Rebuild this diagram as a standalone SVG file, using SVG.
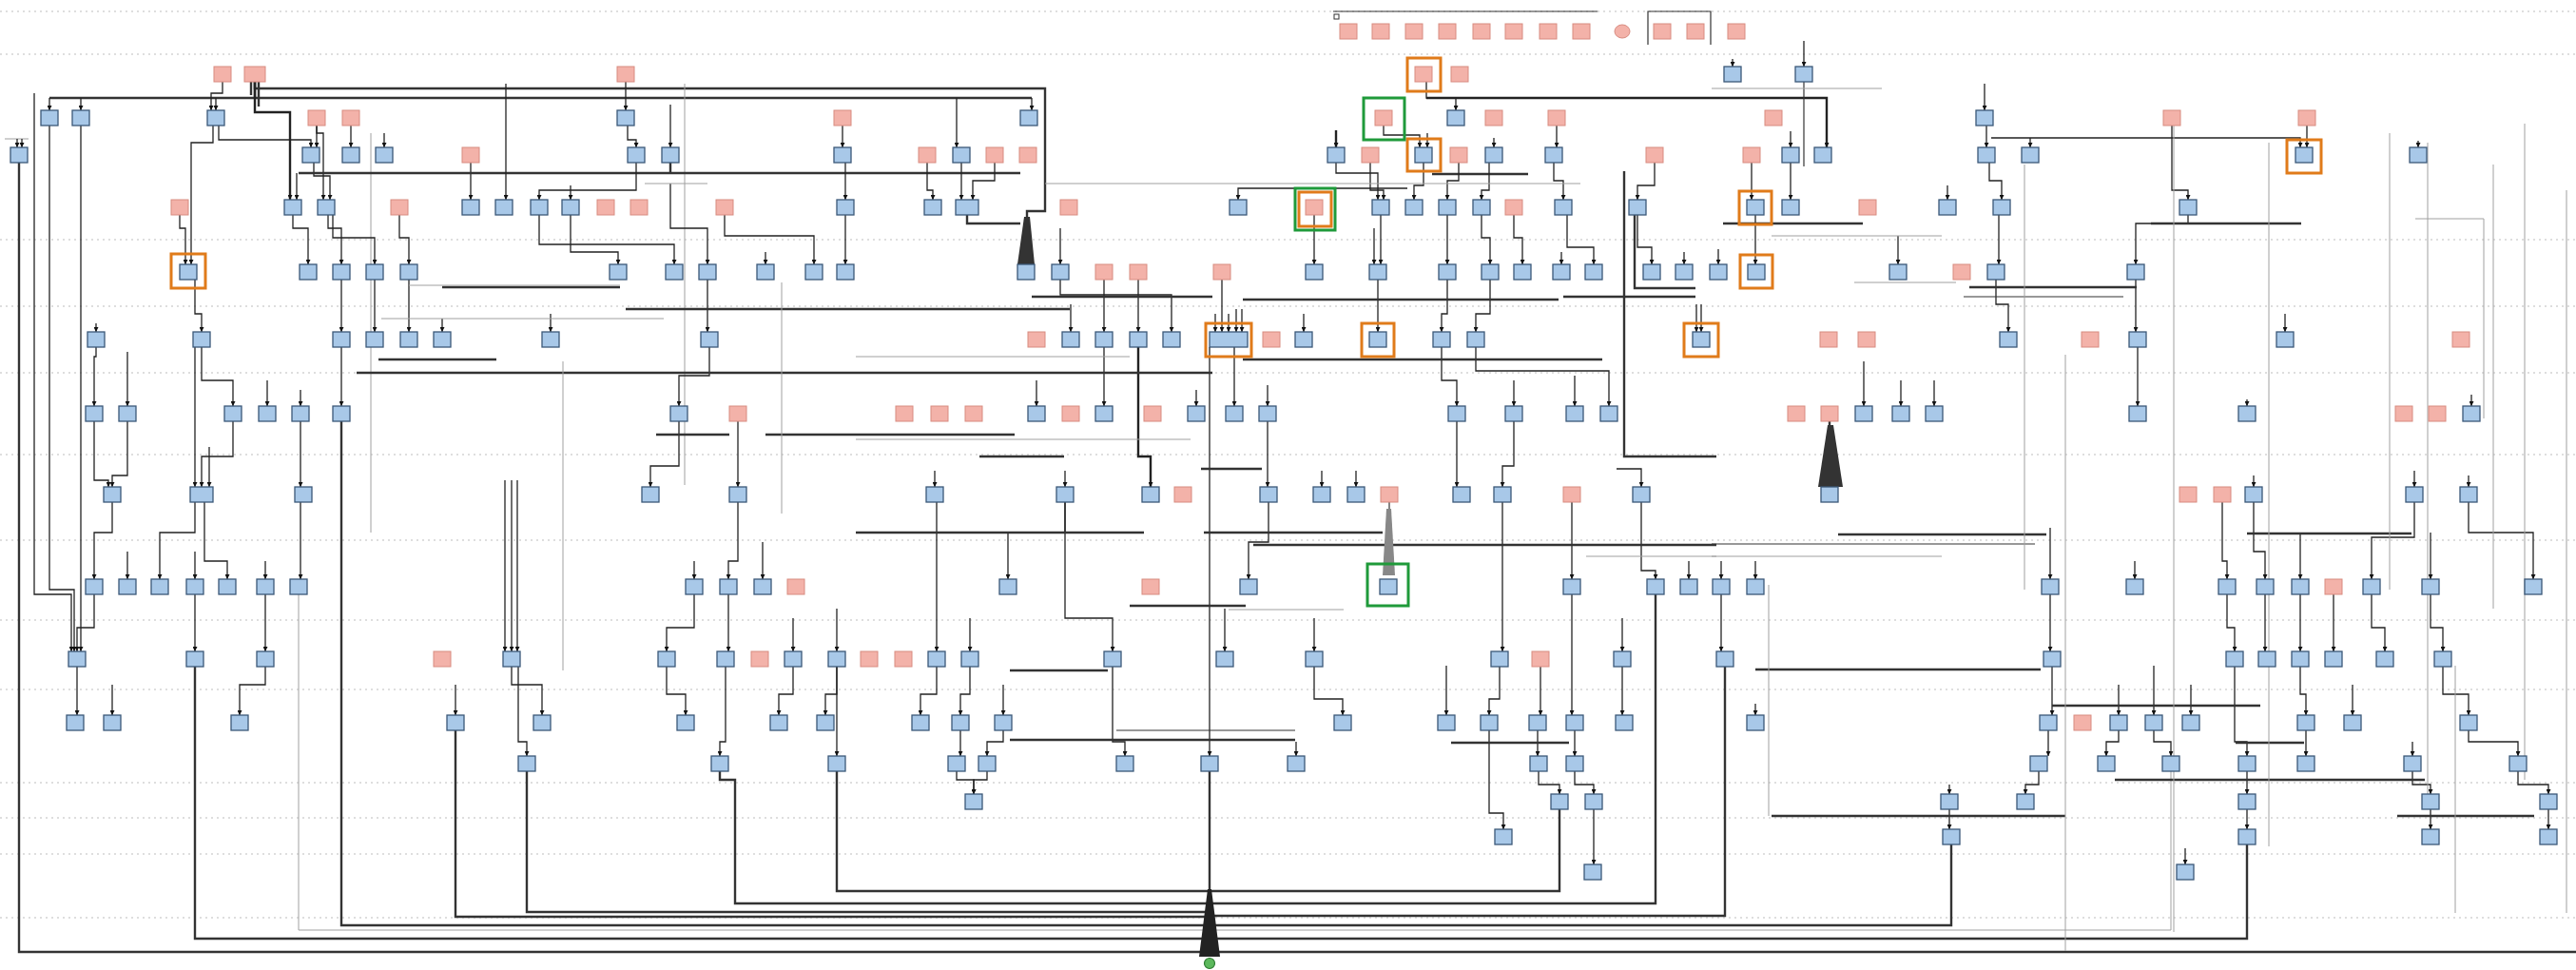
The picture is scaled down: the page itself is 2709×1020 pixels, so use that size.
<svg xmlns="http://www.w3.org/2000/svg" width="2709" height="1020" viewBox="0 0 2709 1020">
<style>
.b{fill:#a8c8e8;stroke:#3b5878;stroke-width:1.3}
.p{fill:#f3b2a9;stroke:#d88b80;stroke-width:1}
.e,.t,.g,.h,.k,.q{fill:none}
.e{stroke:#222;stroke-width:1.3;marker-end:url(#a)}
.t{stroke:#222;stroke-width:2.4;marker-end:url(#a)}
.h{stroke:#333;stroke-width:2.4}
.k{stroke:#333;stroke-width:1.2}
.q{stroke:#a0a0a0;stroke-width:1}
.d{stroke:#d4d4d4;stroke-width:1.5;stroke-dasharray:2 4;fill:none}
.of{fill:none;stroke:#e07b1a;stroke-width:3}
.gf{fill:none;stroke:#1f9a3a;stroke-width:3}
</style>
<defs>
<marker id="a" viewBox="0 0 6 6" refX="6" refY="3" markerWidth="5" markerHeight="5" markerUnits="userSpaceOnUse" orient="auto"><path d="M0,0L6,3L0,6z" fill="#111"/></marker>
</defs>
<rect width="2709" height="1020" fill="#fff"/>
<g id="lanes">
<path class="d" d="M0 12H2709M0 57H2709M0 252H2709M0 322H2709M0 392H2709M0 478H2709M0 568H2709M0 652H2709M0 725H2709M0 823H2709M0 860H2709M0 898H2709M0 965H2709"/>
</g>
<g id="legend">
<path class="k" d="M1402 12H1680M1733 47V12H1799V47"/>
<rect x="1403" y="15" width="5" height="5" fill="none" stroke="#333"/>
</g>
<g id="edges">
<path class="h" d="M268 86V93H1099V222H1080V228"/>
<path class="h" d="M268 86V103H52M268 103H1085M272 86V112M264 86V100"/>
<path class="e" d="M52 103V116"/><path class="e" d="M85 103V116"/><path class="e" d="M227 103V116"/><path class="e" d="M1085 103V116"/>
<path class="t" d="M268 86V118H305V210"/>
<path class="e" d="M234 86V98H222V116"/>
<path class="e" d="M658 86V116"/>
<path class="e" d="M1500 86V103H1531V116"/>
<path class="t" d="M1500 103H1921V155"/>
<path class="e" d="M2087 88V116"/><path class="e" d="M1897 43V70"/><path class="k" d="M1897 86V175"/><path class="e" d="M1822 62V70"/>
<path class="q" d="M1800 93H1979M5 146H30M390 140V560M720 88V510"/>
<path class="e" d="M18 146V155"/><path class="e" d="M23 146V155"/>
<path class="e" d="M230 132V147H327V155"/><path class="e" d="M333 132V155"/><path class="e" d="M369 132V155"/><path class="e" d="M404 140V155"/>
<path class="e" d="M660 132V147H669V155"/><path class="e" d="M705 110V155"/><path class="e" d="M886 132V155"/><path class="e" d="M1006 103V155"/>
<path class="t" d="M1405 137V155"/><path class="e" d="M1455 132V142H1493V155"/><path class="e" d="M1501 140V155"/><path class="e" d="M1571 145V155"/>
<path class="e" d="M1637 132V155"/><path class="e" d="M1883 138V155"/><path class="e" d="M2089 132V155"/><path class="e" d="M2135 145V155"/>
<path class="e" d="M2426 132V155"/><path class="e" d="M2094 145H2419V155"/><path class="e" d="M2543 148V155"/>
<path class="e" d="M333 132V140H340V210"/><path class="e" d="M330 171V185H347V210"/><path class="e" d="M495 171V210"/>
<path class="h" d="M705 171V182H314M705 182H1073M1506 183H1607"/>
<path class="e" d="M532 88V210"/><path class="e" d="M312 182V210"/><path class="e" d="M669 171V200H567V210"/><path class="e" d="M600 195V210"/>
<path class="e" d="M889 171V210"/><path class="e" d="M975 171V200H981V210"/><path class="e" d="M1011 171V210"/><path class="e" d="M1046 171V190H1023V210"/>
<path class="e" d="M1480 198H1302V210"/><path class="e" d="M1405 171V182H1449V210"/><path class="e" d="M1441 171V200H1455V210"/><path class="e" d="M1497 171V195H1487V210"/>
<path class="e" d="M1534 171V190H1522V210"/><path class="e" d="M1566 171V200H1558V210"/><path class="e" d="M1634 171V190H1644V210"/><path class="e" d="M1740 171V195H1722V210"/>
<path class="e" d="M1842 171V210"/><path class="e" d="M1883 171V210"/><path class="e" d="M2048 195V210"/><path class="e" d="M2092 171V190H2105V210"/><path class="e" d="M2284 132V200H2301V210"/>
<path class="e" d="M224 132V150H201V278"/><path class="e" d="M189 226V240H195V278"/><path class="e" d="M308 226V240H324V278"/><path class="e" d="M345 226V240H359V278"/>
<path class="e" d="M350 226V250H394V278"/><path class="e" d="M420 226V250H430V278"/><path class="e" d="M600 226V265H650V278"/><path class="e" d="M567 226V257H709V278"/>
<path class="e" d="M705 193V240H744V278"/><path class="e" d="M762 226V248H856V278"/><path class="e" d="M805 265V278"/><path class="e" d="M889 226V278"/>
<path class="h" d="M1017 226V235H1073"/><path class="e" d="M1115 240V278"/><path class="e" d="M1382 226V278"/><path class="e" d="M1452 226V278"/><path class="e" d="M1445 240V278"/>
<path class="e" d="M1522 226V278"/><path class="e" d="M1558 226V250H1567V278"/><path class="e" d="M1592 226V250H1601V278"/><path class="e" d="M1642 265V278"/>
<path class="e" d="M1648 226V260H1676V278"/><path class="e" d="M1722 226V260H1737V278"/><path class="e" d="M1771 265V278"/><path class="e" d="M1807 262V278"/>
<path class="e" d="M1846 226V278"/><path class="e" d="M1996 248V278"/><path class="e" d="M2102 226V278"/><path class="e" d="M2301 226V235H2246V278"/><path class="h" d="M2262 235H2420"/>
<path class="e" d="M101 340V349"/><path class="e" d="M205 294V330H212V349"/><path class="e" d="M359 294V349"/><path class="e" d="M394 294V349"/><path class="e" d="M430 294V349"/>
<path class="e" d="M465 335V349"/><path class="e" d="M579 330V349"/><path class="e" d="M744 294V349"/><path class="e" d="M1126 320V349"/><path class="e" d="M1161 294V349"/>
<path class="e" d="M1197 294V349"/><path class="e" d="M1115 294V310H1232V349"/><path class="e" d="M1285 294V349"/><path class="e" d="M1278 330V349"/><path class="e" d="M1292 330V349"/>
<path class="e" d="M1300 325V349"/><path class="e" d="M1306 325V349"/><path class="e" d="M1371 330V349"/><path class="e" d="M1449 294V349"/><path class="e" d="M1522 294V330H1516V349"/>
<path class="e" d="M1567 294V330H1552V349"/><path class="e" d="M1789 320V349"/><path class="e" d="M1784 320V349"/><path class="e" d="M2099 294V320H2112V349"/><path class="e" d="M2246 294V349"/><path class="e" d="M2403 330V349"/>
<path class="e" d="M101 365V375H99V427"/><path class="e" d="M134 370V427"/><path class="e" d="M212 365V400H245V427"/><path class="e" d="M281 400V427"/><path class="e" d="M316 410V427"/>
<path class="e" d="M359 365V427"/><path class="e" d="M746 365V395H714V427"/><path class="e" d="M1090 400V427"/><path class="e" d="M1161 365V427"/><path class="e" d="M1258 410V427"/>
<path class="e" d="M1298 365V427"/><path class="e" d="M1333 405V427"/><path class="e" d="M1516 365V400H1532V427"/><path class="e" d="M1592 400V427"/><path class="e" d="M1656 395V427"/>
<path class="e" d="M1552 365V390H1692V427"/><path class="e" d="M1960 380V427"/><path class="e" d="M1999 400V427"/><path class="e" d="M2034 400V427"/><path class="e" d="M2248 365V427"/>
<path class="e" d="M2363 420V427"/><path class="q" d="M2540 230H2612V440"/><path class="e" d="M2599 415V427"/>
<path class="e" d="M134 443V500H118V512"/><path class="e" d="M99 443V505H114V512"/><path class="e" d="M245 443V480H212V512"/><path class="e" d="M205 365V512"/><path class="e" d="M220 470V512"/>
<path class="e" d="M316 443V512"/><path class="e" d="M714 443V490H684V512"/><path class="e" d="M776 443V512"/><path class="e" d="M983 495V512"/><path class="e" d="M1120 495V512"/>
<path class="t" d="M1197 365V480H1210V512"/><path class="e" d="M1333 443V512"/><path class="e" d="M1390 495V512"/><path class="e" d="M1426 495V512"/><path class="e" d="M1532 443V512"/>
<path class="e" d="M1592 443V490H1580V512"/><path class="e" d="M1700 493H1726V512"/><path class="h" d="M1924 443V447"/><path class="e" d="M2370 500V512"/><path class="e" d="M2539 495V512"/><path class="e" d="M2596 500V512"/>
<path class="e" d="M118 528V560H99V609"/><path class="e" d="M134 580V609"/><path class="e" d="M205 528V560H168V609"/><path class="e" d="M205 580V609"/><path class="e" d="M215 528V590H239V609"/>
<path class="e" d="M279 590V609"/><path class="e" d="M316 528V609"/><path class="e" d="M730 590V609"/><path class="e" d="M776 528V590H766V609"/><path class="e" d="M802 570V609"/>
<path class="e" d="M1120 528V560H1060V609"/><path class="e" d="M1334 528V570H1313V609"/><path class="k" d="M1461 528V535"/><path class="e" d="M1653 528V609"/><path class="e" d="M1726 528V600H1741V609"/>
<path class="e" d="M1776 590V609"/><path class="e" d="M1810 590V609"/><path class="e" d="M1846 590V609"/><path class="e" d="M2156 555V609"/><path class="e" d="M2245 590V609"/>
<path class="e" d="M2337 528V590H2342V609"/><path class="e" d="M2370 528V580H2382V609"/><path class="e" d="M2419 560V609"/><path class="e" d="M2539 528V565H2494V609"/><path class="e" d="M2556 560V609"/><path class="e" d="M2596 528V560H2664V609"/>
<path class="e" d="M99 625V660H81V685"/><path class="e" d="M36 98V625H75V685"/><path class="e" d="M52 132V620H78V685"/><path class="e" d="M85 132V685"/><path class="e" d="M205 625V685"/><path class="e" d="M279 625V685"/>
<path class="e" d="M531 505V685"/><path class="e" d="M538 505V685"/><path class="e" d="M544 505V685"/><path class="e" d="M730 625V660H701V685"/><path class="e" d="M766 625V685"/><path class="e" d="M834 650V685"/>
<path class="e" d="M880 640V685"/><path class="e" d="M985 528V685"/><path class="e" d="M1020 650V685"/><path class="e" d="M1120 528V650H1170V685"/><path class="e" d="M1288 640V685"/><path class="e" d="M1382 650V685"/>
<path class="e" d="M1580 528V685"/><path class="e" d="M1706 650V685"/><path class="e" d="M1810 625V685"/><path class="e" d="M2156 625V685"/><path class="e" d="M2342 625V660H2350V685"/><path class="e" d="M2382 625V685"/>
<path class="e" d="M2419 625V685"/><path class="e" d="M2454 625V685"/><path class="e" d="M2494 625V660H2508V685"/><path class="e" d="M2556 625V660H2569V685"/>
<path class="e" d="M81 701V752"/><path class="e" d="M118 720V752"/><path class="e" d="M279 701V720H252V752"/><path class="e" d="M479 720V752"/><path class="e" d="M538 701V720H570V752"/>
<path class="e" d="M701 701V730H721V752"/><path class="e" d="M834 701V730H819V752"/><path class="e" d="M880 701V730H868V752"/><path class="e" d="M985 701V730H968V752"/><path class="e" d="M1020 701V730H1010V752"/>
<path class="e" d="M1055 720V752"/><path class="e" d="M1382 701V735H1412V752"/><path class="e" d="M1521 700V752"/><path class="e" d="M1577 701V735H1566V752"/><path class="e" d="M1620 701V752"/>
<path class="e" d="M1653 625V752"/><path class="e" d="M1706 701V752"/><path class="e" d="M1846 740V752"/><path class="e" d="M2158 701V752"/><path class="e" d="M2228 720V752"/>
<path class="e" d="M2265 700V752"/><path class="e" d="M2304 720V752"/><path class="e" d="M2419 701V730H2425V752"/><path class="e" d="M2474 720V752"/><path class="e" d="M2569 701V730H2596V752"/>
<path class="e" d="M545 701V780H554V795"/><path class="e" d="M763 701V780H757V795"/><path class="e" d="M880 701V795"/><path class="e" d="M1010 768V795"/><path class="e" d="M1055 768V780H1038V795"/>
<path class="e" d="M1170 701V780H1183V795"/><path class="e" d="M1272 365V795"/><path class="e" d="M1363 780V795"/><path class="e" d="M1617 768V795"/><path class="e" d="M1656 768V795"/>
<path class="e" d="M2154 768V795"/><path class="e" d="M2228 768V780H2215V795"/><path class="e" d="M2265 768V780H2283V795"/><path class="e" d="M2350 701V780H2363V795"/><path class="e" d="M2425 768V795"/>
<path class="e" d="M2537 780V795"/><path class="e" d="M2596 768V780H2648V795"/>
<path class="e" d="M1006 811V820H1024V835"/><path class="e" d="M1038 811V820H1024V835"/><path class="e" d="M1618 811V825H1640V835"/><path class="e" d="M1656 811V825H1676V835"/><path class="e" d="M2050 825V835"/>
<path class="e" d="M2144 811V825H2130V835"/><path class="e" d="M2363 811V835"/><path class="e" d="M2537 811V825H2556V835"/><path class="e" d="M2648 811V825H2680V835"/>
<path class="e" d="M1566 768V855H1581V872"/><path class="e" d="M2050 851V872"/><path class="e" d="M2363 851V872"/><path class="e" d="M2556 851V872"/><path class="e" d="M2680 851V872"/>
<path class="e" d="M1676 851V909"/><path class="e" d="M2298 892V909"/>
<path class="h" d="M20 171V1001H2709"/>
<path class="h" d="M205 701V987H2363V888"/>
<path class="h" d="M359 443V973H2052V888"/>
<path class="q" d="M314 625V978H2283V811"/>
<path class="h" d="M479 768V964H1272"/>
<path class="h" d="M554 811V959H1272"/>
<path class="h" d="M757 811V820H773V950H1741V625"/>
<path class="h" d="M880 811V937H1640V851"/>
<path class="h" d="M1814 701V963H1272"/>
<path class="h" d="M1272 811V935"/>
<path class="h" d="M900 325H1125M658 325H900M398 378H522M375 392H1275M690 457H767M805 457H1067M1085 312H1275M1307 315H1639M1644 312H1783M1307 378H1685"/>
<path class="h" d="M465 302H652M1030 480H1119M1263 493H1327M1708 180V480H1805M1719 218V303H1783M900 560H1203M1266 560H1454M1318 573H1805"/>
<path class="h" d="M1188 637H1310M1062 778H1362M1526 781H1650M1062 705H1165M1933 562H2152M2363 561H2536M1846 704H2146M2158 742H2377M2224 820H2550M1863 858H2172M2521 858H2665M2351 781H2423M1812 235H1959M2071 302H2247"/>
<path class="k" d="M1174 768H1362M1800 572H2140M2065 312H2233"/>
<path class="q" d="M1099 193H1662M678 193H744M430 300H652M401 335H698M900 375H1188M900 462H1252M1668 585H1805M1292 641H1413M1800 585H2042M1860 615V858M1863 248H2042M1950 297H2057"/>
<path class="q" d="M2386 150V890M2513 140V620M2622 173V640M2286 130V980M2172 373V1000M2129 173V620M2553 150V840M2655 130V820M2699 200V960M592 380V705M822 297V540M2582 700V960"/>
<path d="M1077 228H1083L1088 278H1070Z" fill="#333"/>
<path d="M1922 447H1928L1938 512H1912Z" fill="#333"/>
<path d="M1458 535H1463L1467 605H1454Z" fill="#888"/>
<path d="M1270 935H1274L1283 1006H1261Z" fill="#222"/>
</g>
<g id="lg1"><rect class="p" x="1409" y="25" width="18" height="16"/></g>
<g id="lg2"><rect class="p" x="1443" y="25" width="18" height="16"/></g>
<g id="lg3"><rect class="p" x="1478" y="25" width="18" height="16"/></g>
<g id="lg4"><rect class="p" x="1513" y="25" width="18" height="16"/></g>
<g id="lg5"><rect class="p" x="1549" y="25" width="18" height="16"/></g>
<g id="lg6"><rect class="p" x="1583" y="25" width="18" height="16"/></g>
<g id="lg7"><rect class="p" x="1619" y="25" width="18" height="16"/></g>
<g id="lg8"><rect class="p" x="1654" y="25" width="18" height="16"/></g>
<g id="lg9"><ellipse class="p" cx="1706" cy="33" rx="8" ry="7"/></g>
<g id="lg10"><rect class="p" x="1739" y="25" width="18" height="16"/></g>
<g id="lg11"><rect class="p" x="1774" y="25" width="18" height="16"/></g>
<g id="lg12"><rect class="p" x="1817" y="25" width="18" height="16"/></g>
<g id="r0">
<g id="n1"><rect class="p" x="225" y="70" width="18" height="16"/></g>
<g id="n2"><rect class="p" x="257" y="70" width="22" height="16"/></g>
<g id="n3"><rect class="p" x="649" y="70" width="18" height="16"/></g>
<g id="n4"><rect class="p" x="1488" y="70" width="18" height="16"/></g>
<g id="n5"><rect class="p" x="1526" y="70" width="18" height="16"/></g>
<g id="n6"><rect class="b" x="1813" y="70" width="18" height="16"/></g>
<g id="n7"><rect class="b" x="1888" y="70" width="18" height="16"/></g>
</g>
<g id="r1">
<g id="n8"><rect class="b" x="43" y="116" width="18" height="16"/></g>
<g id="n9"><rect class="b" x="76" y="116" width="18" height="16"/></g>
<g id="n10"><rect class="b" x="218" y="116" width="18" height="16"/></g>
<g id="n11"><rect class="p" x="324" y="116" width="18" height="16"/></g>
<g id="n12"><rect class="p" x="360" y="116" width="18" height="16"/></g>
<g id="n13"><rect class="b" x="649" y="116" width="18" height="16"/></g>
<g id="n14"><rect class="p" x="877" y="116" width="18" height="16"/></g>
<g id="n15"><rect class="b" x="1073" y="116" width="18" height="16"/></g>
<g id="n16"><rect class="p" x="1446" y="116" width="18" height="16"/></g>
<g id="n17"><rect class="b" x="1522" y="116" width="18" height="16"/></g>
<g id="n18"><rect class="p" x="1562" y="116" width="18" height="16"/></g>
<g id="n19"><rect class="p" x="1628" y="116" width="18" height="16"/></g>
<g id="n20"><rect class="p" x="1856" y="116" width="18" height="16"/></g>
<g id="n21"><rect class="b" x="2078" y="116" width="18" height="16"/></g>
<g id="n22"><rect class="p" x="2275" y="116" width="18" height="16"/></g>
<g id="n23"><rect class="p" x="2417" y="116" width="18" height="16"/></g>
</g>
<g id="r2">
<g id="n24"><rect class="b" x="11" y="155" width="18" height="16"/></g>
<g id="n25"><rect class="b" x="318" y="155" width="18" height="16"/></g>
<g id="n26"><rect class="b" x="360" y="155" width="18" height="16"/></g>
<g id="n27"><rect class="b" x="395" y="155" width="18" height="16"/></g>
<g id="n28"><rect class="p" x="486" y="155" width="18" height="16"/></g>
<g id="n29"><rect class="b" x="660" y="155" width="18" height="16"/></g>
<g id="n30"><rect class="b" x="696" y="155" width="18" height="16"/></g>
<g id="n31"><rect class="b" x="877" y="155" width="18" height="16"/></g>
<g id="n32"><rect class="p" x="966" y="155" width="18" height="16"/></g>
<g id="n33"><rect class="b" x="1002" y="155" width="18" height="16"/></g>
<g id="n34"><rect class="p" x="1037" y="155" width="18" height="16"/></g>
<g id="n35"><rect class="p" x="1072" y="155" width="18" height="16"/></g>
<g id="n36"><rect class="b" x="1396" y="155" width="18" height="16"/></g>
<g id="n37"><rect class="p" x="1432" y="155" width="18" height="16"/></g>
<g id="n38"><rect class="b" x="1488" y="155" width="18" height="16"/></g>
<g id="n39"><rect class="p" x="1525" y="155" width="18" height="16"/></g>
<g id="n40"><rect class="b" x="1562" y="155" width="18" height="16"/></g>
<g id="n41"><rect class="b" x="1625" y="155" width="18" height="16"/></g>
<g id="n42"><rect class="p" x="1731" y="155" width="18" height="16"/></g>
<g id="n43"><rect class="p" x="1833" y="155" width="18" height="16"/></g>
<g id="n44"><rect class="b" x="1874" y="155" width="18" height="16"/></g>
<g id="n45"><rect class="b" x="1908" y="155" width="18" height="16"/></g>
<g id="n46"><rect class="b" x="2080" y="155" width="18" height="16"/></g>
<g id="n47"><rect class="b" x="2126" y="155" width="18" height="16"/></g>
<g id="n48"><rect class="b" x="2414" y="155" width="18" height="16"/></g>
<g id="n49"><rect class="b" x="2534" y="155" width="18" height="16"/></g>
</g>
<g id="r3">
<g id="n50"><rect class="p" x="180" y="210" width="18" height="16"/></g>
<g id="n51"><rect class="b" x="299" y="210" width="18" height="16"/></g>
<g id="n52"><rect class="b" x="334" y="210" width="18" height="16"/></g>
<g id="n53"><rect class="p" x="411" y="210" width="18" height="16"/></g>
<g id="n54"><rect class="b" x="486" y="210" width="18" height="16"/></g>
<g id="n55"><rect class="b" x="521" y="210" width="18" height="16"/></g>
<g id="n56"><rect class="b" x="558" y="210" width="18" height="16"/></g>
<g id="n57"><rect class="b" x="591" y="210" width="18" height="16"/></g>
<g id="n58"><rect class="p" x="628" y="210" width="18" height="16"/></g>
<g id="n59"><rect class="p" x="663" y="210" width="18" height="16"/></g>
<g id="n60"><rect class="p" x="753" y="210" width="18" height="16"/></g>
<g id="n61"><rect class="b" x="880" y="210" width="18" height="16"/></g>
<g id="n62"><rect class="b" x="972" y="210" width="18" height="16"/></g>
<g id="n63"><rect class="b" x="1005" y="210" width="24" height="16"/></g>
<g id="n64"><rect class="p" x="1115" y="210" width="18" height="16"/></g>
<g id="n65"><rect class="b" x="1293" y="210" width="18" height="16"/></g>
<g id="n66"><rect class="p" x="1373" y="210" width="18" height="16"/></g>
<g id="n67"><rect class="b" x="1443" y="210" width="18" height="16"/></g>
<g id="n68"><rect class="b" x="1478" y="210" width="18" height="16"/></g>
<g id="n69"><rect class="b" x="1513" y="210" width="18" height="16"/></g>
<g id="n70"><rect class="b" x="1549" y="210" width="18" height="16"/></g>
<g id="n71"><rect class="p" x="1583" y="210" width="18" height="16"/></g>
<g id="n72"><rect class="b" x="1635" y="210" width="18" height="16"/></g>
<g id="n73"><rect class="b" x="1713" y="210" width="18" height="16"/></g>
<g id="n74"><rect class="b" x="1837" y="210" width="18" height="16"/></g>
<g id="n75"><rect class="b" x="1874" y="210" width="18" height="16"/></g>
<g id="n76"><rect class="p" x="1955" y="210" width="18" height="16"/></g>
<g id="n77"><rect class="b" x="2039" y="210" width="18" height="16"/></g>
<g id="n78"><rect class="b" x="2096" y="210" width="18" height="16"/></g>
<g id="n79"><rect class="b" x="2292" y="210" width="18" height="16"/></g>
</g>
<g id="r4">
<g id="n80"><rect class="b" x="189" y="278" width="18" height="16"/></g>
<g id="n81"><rect class="b" x="315" y="278" width="18" height="16"/></g>
<g id="n82"><rect class="b" x="350" y="278" width="18" height="16"/></g>
<g id="n83"><rect class="b" x="385" y="278" width="18" height="16"/></g>
<g id="n84"><rect class="b" x="421" y="278" width="18" height="16"/></g>
<g id="n85"><rect class="b" x="641" y="278" width="18" height="16"/></g>
<g id="n86"><rect class="b" x="700" y="278" width="18" height="16"/></g>
<g id="n87"><rect class="b" x="735" y="278" width="18" height="16"/></g>
<g id="n88"><rect class="b" x="796" y="278" width="18" height="16"/></g>
<g id="n89"><rect class="b" x="847" y="278" width="18" height="16"/></g>
<g id="n90"><rect class="b" x="880" y="278" width="18" height="16"/></g>
<g id="n91"><rect class="b" x="1070" y="278" width="18" height="16"/></g>
<g id="n92"><rect class="b" x="1106" y="278" width="18" height="16"/></g>
<g id="n93"><rect class="p" x="1152" y="278" width="18" height="16"/></g>
<g id="n94"><rect class="p" x="1188" y="278" width="18" height="16"/></g>
<g id="n95"><rect class="p" x="1276" y="278" width="18" height="16"/></g>
<g id="n96"><rect class="b" x="1373" y="278" width="18" height="16"/></g>
<g id="n97"><rect class="b" x="1440" y="278" width="18" height="16"/></g>
<g id="n98"><rect class="b" x="1513" y="278" width="18" height="16"/></g>
<g id="n99"><rect class="b" x="1558" y="278" width="18" height="16"/></g>
<g id="n100"><rect class="b" x="1592" y="278" width="18" height="16"/></g>
<g id="n101"><rect class="b" x="1633" y="278" width="18" height="16"/></g>
<g id="n102"><rect class="b" x="1667" y="278" width="18" height="16"/></g>
<g id="n103"><rect class="b" x="1728" y="278" width="18" height="16"/></g>
<g id="n104"><rect class="b" x="1762" y="278" width="18" height="16"/></g>
<g id="n105"><rect class="b" x="1798" y="278" width="18" height="16"/></g>
<g id="n106"><rect class="b" x="1838" y="278" width="18" height="16"/></g>
<g id="n107"><rect class="b" x="1987" y="278" width="18" height="16"/></g>
<g id="n108"><rect class="p" x="2054" y="278" width="18" height="16"/></g>
<g id="n109"><rect class="b" x="2090" y="278" width="18" height="16"/></g>
<g id="n110"><rect class="b" x="2237" y="278" width="18" height="16"/></g>
</g>
<g id="r5">
<g id="n111"><rect class="b" x="92" y="349" width="18" height="16"/></g>
<g id="n112"><rect class="b" x="203" y="349" width="18" height="16"/></g>
<g id="n113"><rect class="b" x="350" y="349" width="18" height="16"/></g>
<g id="n114"><rect class="b" x="385" y="349" width="18" height="16"/></g>
<g id="n115"><rect class="b" x="421" y="349" width="18" height="16"/></g>
<g id="n116"><rect class="b" x="456" y="349" width="18" height="16"/></g>
<g id="n117"><rect class="b" x="570" y="349" width="18" height="16"/></g>
<g id="n118"><rect class="b" x="737" y="349" width="18" height="16"/></g>
<g id="n119"><rect class="p" x="1081" y="349" width="18" height="16"/></g>
<g id="n120"><rect class="b" x="1117" y="349" width="18" height="16"/></g>
<g id="n121"><rect class="b" x="1152" y="349" width="18" height="16"/></g>
<g id="n122"><rect class="b" x="1188" y="349" width="18" height="16"/></g>
<g id="n123"><rect class="b" x="1223" y="349" width="18" height="16"/></g>
<g id="n124"><rect class="b" x="1272" y="349" width="40" height="16"/></g>
<g id="n125"><rect class="p" x="1328" y="349" width="18" height="16"/></g>
<g id="n126"><rect class="b" x="1362" y="349" width="18" height="16"/></g>
<g id="n127"><rect class="b" x="1440" y="349" width="18" height="16"/></g>
<g id="n128"><rect class="b" x="1507" y="349" width="18" height="16"/></g>
<g id="n129"><rect class="b" x="1543" y="349" width="18" height="16"/></g>
<g id="n130"><rect class="b" x="1780" y="349" width="18" height="16"/></g>
<g id="n131"><rect class="p" x="1914" y="349" width="18" height="16"/></g>
<g id="n132"><rect class="p" x="1954" y="349" width="18" height="16"/></g>
<g id="n133"><rect class="b" x="2103" y="349" width="18" height="16"/></g>
<g id="n134"><rect class="p" x="2189" y="349" width="18" height="16"/></g>
<g id="n135"><rect class="b" x="2239" y="349" width="18" height="16"/></g>
<g id="n136"><rect class="b" x="2394" y="349" width="18" height="16"/></g>
<g id="n137"><rect class="p" x="2579" y="349" width="18" height="16"/></g>
</g>
<g id="r6">
<g id="n138"><rect class="b" x="90" y="427" width="18" height="16"/></g>
<g id="n139"><rect class="b" x="125" y="427" width="18" height="16"/></g>
<g id="n140"><rect class="b" x="236" y="427" width="18" height="16"/></g>
<g id="n141"><rect class="b" x="272" y="427" width="18" height="16"/></g>
<g id="n142"><rect class="b" x="307" y="427" width="18" height="16"/></g>
<g id="n143"><rect class="b" x="350" y="427" width="18" height="16"/></g>
<g id="n144"><rect class="b" x="705" y="427" width="18" height="16"/></g>
<g id="n145"><rect class="p" x="767" y="427" width="18" height="16"/></g>
<g id="n146"><rect class="p" x="942" y="427" width="18" height="16"/></g>
<g id="n147"><rect class="p" x="979" y="427" width="18" height="16"/></g>
<g id="n148"><rect class="p" x="1015" y="427" width="18" height="16"/></g>
<g id="n149"><rect class="b" x="1081" y="427" width="18" height="16"/></g>
<g id="n150"><rect class="p" x="1117" y="427" width="18" height="16"/></g>
<g id="n151"><rect class="b" x="1152" y="427" width="18" height="16"/></g>
<g id="n152"><rect class="p" x="1203" y="427" width="18" height="16"/></g>
<g id="n153"><rect class="b" x="1249" y="427" width="18" height="16"/></g>
<g id="n154"><rect class="b" x="1289" y="427" width="18" height="16"/></g>
<g id="n155"><rect class="b" x="1324" y="427" width="18" height="16"/></g>
<g id="n156"><rect class="b" x="1523" y="427" width="18" height="16"/></g>
<g id="n157"><rect class="b" x="1583" y="427" width="18" height="16"/></g>
<g id="n158"><rect class="b" x="1647" y="427" width="18" height="16"/></g>
<g id="n159"><rect class="b" x="1683" y="427" width="18" height="16"/></g>
<g id="n160"><rect class="p" x="1880" y="427" width="18" height="16"/></g>
<g id="n161"><rect class="p" x="1915" y="427" width="18" height="16"/></g>
<g id="n162"><rect class="b" x="1951" y="427" width="18" height="16"/></g>
<g id="n163"><rect class="b" x="1990" y="427" width="18" height="16"/></g>
<g id="n164"><rect class="b" x="2025" y="427" width="18" height="16"/></g>
<g id="n165"><rect class="b" x="2239" y="427" width="18" height="16"/></g>
<g id="n166"><rect class="b" x="2354" y="427" width="18" height="16"/></g>
<g id="n167"><rect class="p" x="2519" y="427" width="18" height="16"/></g>
<g id="n168"><rect class="p" x="2554" y="427" width="18" height="16"/></g>
<g id="n169"><rect class="b" x="2590" y="427" width="18" height="16"/></g>
</g>
<g id="r7">
<g id="n170"><rect class="b" x="109" y="512" width="18" height="16"/></g>
<g id="n171"><rect class="b" x="200" y="512" width="24" height="16"/></g>
<g id="n172"><rect class="b" x="310" y="512" width="18" height="16"/></g>
<g id="n173"><rect class="b" x="675" y="512" width="18" height="16"/></g>
<g id="n174"><rect class="b" x="767" y="512" width="18" height="16"/></g>
<g id="n175"><rect class="b" x="974" y="512" width="18" height="16"/></g>
<g id="n176"><rect class="b" x="1111" y="512" width="18" height="16"/></g>
<g id="n177"><rect class="b" x="1201" y="512" width="18" height="16"/></g>
<g id="n178"><rect class="p" x="1235" y="512" width="18" height="16"/></g>
<g id="n179"><rect class="b" x="1325" y="512" width="18" height="16"/></g>
<g id="n180"><rect class="b" x="1381" y="512" width="18" height="16"/></g>
<g id="n181"><rect class="b" x="1417" y="512" width="18" height="16"/></g>
<g id="n182"><rect class="p" x="1452" y="512" width="18" height="16"/></g>
<g id="n183"><rect class="b" x="1528" y="512" width="18" height="16"/></g>
<g id="n184"><rect class="b" x="1571" y="512" width="18" height="16"/></g>
<g id="n185"><rect class="p" x="1644" y="512" width="18" height="16"/></g>
<g id="n186"><rect class="b" x="1717" y="512" width="18" height="16"/></g>
<g id="n187"><rect class="b" x="1915" y="512" width="18" height="16"/></g>
<g id="n188"><rect class="p" x="2292" y="512" width="18" height="16"/></g>
<g id="n189"><rect class="p" x="2328" y="512" width="18" height="16"/></g>
<g id="n190"><rect class="b" x="2361" y="512" width="18" height="16"/></g>
<g id="n191"><rect class="b" x="2530" y="512" width="18" height="16"/></g>
<g id="n192"><rect class="b" x="2587" y="512" width="18" height="16"/></g>
</g>
<g id="r8">
<g id="n193"><rect class="b" x="90" y="609" width="18" height="16"/></g>
<g id="n194"><rect class="b" x="125" y="609" width="18" height="16"/></g>
<g id="n195"><rect class="b" x="159" y="609" width="18" height="16"/></g>
<g id="n196"><rect class="b" x="196" y="609" width="18" height="16"/></g>
<g id="n197"><rect class="b" x="230" y="609" width="18" height="16"/></g>
<g id="n198"><rect class="b" x="270" y="609" width="18" height="16"/></g>
<g id="n199"><rect class="b" x="305" y="609" width="18" height="16"/></g>
<g id="n200"><rect class="b" x="721" y="609" width="18" height="16"/></g>
<g id="n201"><rect class="b" x="757" y="609" width="18" height="16"/></g>
<g id="n202"><rect class="b" x="793" y="609" width="18" height="16"/></g>
<g id="n203"><rect class="p" x="828" y="609" width="18" height="16"/></g>
<g id="n204"><rect class="b" x="1051" y="609" width="18" height="16"/></g>
<g id="n205"><rect class="p" x="1201" y="609" width="18" height="16"/></g>
<g id="n206"><rect class="b" x="1304" y="609" width="18" height="16"/></g>
<g id="n207"><rect class="b" x="1451" y="609" width="18" height="16"/></g>
<g id="n208"><rect class="b" x="1644" y="609" width="18" height="16"/></g>
<g id="n209"><rect class="b" x="1732" y="609" width="18" height="16"/></g>
<g id="n210"><rect class="b" x="1767" y="609" width="18" height="16"/></g>
<g id="n211"><rect class="b" x="1801" y="609" width="18" height="16"/></g>
<g id="n212"><rect class="b" x="1837" y="609" width="18" height="16"/></g>
<g id="n213"><rect class="b" x="2147" y="609" width="18" height="16"/></g>
<g id="n214"><rect class="b" x="2236" y="609" width="18" height="16"/></g>
<g id="n215"><rect class="b" x="2333" y="609" width="18" height="16"/></g>
<g id="n216"><rect class="b" x="2373" y="609" width="18" height="16"/></g>
<g id="n217"><rect class="b" x="2410" y="609" width="18" height="16"/></g>
<g id="n218"><rect class="p" x="2445" y="609" width="18" height="16"/></g>
<g id="n219"><rect class="b" x="2485" y="609" width="18" height="16"/></g>
<g id="n220"><rect class="b" x="2547" y="609" width="18" height="16"/></g>
<g id="n221"><rect class="b" x="2655" y="609" width="18" height="16"/></g>
</g>
<g id="r9">
<g id="n222"><rect class="b" x="72" y="685" width="18" height="16"/></g>
<g id="n223"><rect class="b" x="196" y="685" width="18" height="16"/></g>
<g id="n224"><rect class="b" x="270" y="685" width="18" height="16"/></g>
<g id="n225"><rect class="p" x="456" y="685" width="18" height="16"/></g>
<g id="n226"><rect class="b" x="529" y="685" width="18" height="16"/></g>
<g id="n227"><rect class="b" x="692" y="685" width="18" height="16"/></g>
<g id="n228"><rect class="b" x="754" y="685" width="18" height="16"/></g>
<g id="n229"><rect class="p" x="790" y="685" width="18" height="16"/></g>
<g id="n230"><rect class="b" x="825" y="685" width="18" height="16"/></g>
<g id="n231"><rect class="b" x="871" y="685" width="18" height="16"/></g>
<g id="n232"><rect class="p" x="905" y="685" width="18" height="16"/></g>
<g id="n233"><rect class="p" x="941" y="685" width="18" height="16"/></g>
<g id="n234"><rect class="b" x="976" y="685" width="18" height="16"/></g>
<g id="n235"><rect class="b" x="1011" y="685" width="18" height="16"/></g>
<g id="n236"><rect class="b" x="1161" y="685" width="18" height="16"/></g>
<g id="n237"><rect class="b" x="1279" y="685" width="18" height="16"/></g>
<g id="n238"><rect class="b" x="1373" y="685" width="18" height="16"/></g>
<g id="n239"><rect class="b" x="1568" y="685" width="18" height="16"/></g>
<g id="n240"><rect class="p" x="1611" y="685" width="18" height="16"/></g>
<g id="n241"><rect class="b" x="1697" y="685" width="18" height="16"/></g>
<g id="n242"><rect class="b" x="1805" y="685" width="18" height="16"/></g>
<g id="n243"><rect class="b" x="2149" y="685" width="18" height="16"/></g>
<g id="n244"><rect class="b" x="2341" y="685" width="18" height="16"/></g>
<g id="n245"><rect class="b" x="2375" y="685" width="18" height="16"/></g>
<g id="n246"><rect class="b" x="2410" y="685" width="18" height="16"/></g>
<g id="n247"><rect class="b" x="2445" y="685" width="18" height="16"/></g>
<g id="n248"><rect class="b" x="2499" y="685" width="18" height="16"/></g>
<g id="n249"><rect class="b" x="2560" y="685" width="18" height="16"/></g>
</g>
<g id="r10">
<g id="n250"><rect class="b" x="70" y="752" width="18" height="16"/></g>
<g id="n251"><rect class="b" x="109" y="752" width="18" height="16"/></g>
<g id="n252"><rect class="b" x="243" y="752" width="18" height="16"/></g>
<g id="n253"><rect class="b" x="470" y="752" width="18" height="16"/></g>
<g id="n254"><rect class="b" x="561" y="752" width="18" height="16"/></g>
<g id="n255"><rect class="b" x="712" y="752" width="18" height="16"/></g>
<g id="n256"><rect class="b" x="810" y="752" width="18" height="16"/></g>
<g id="n257"><rect class="b" x="859" y="752" width="18" height="16"/></g>
<g id="n258"><rect class="b" x="959" y="752" width="18" height="16"/></g>
<g id="n259"><rect class="b" x="1001" y="752" width="18" height="16"/></g>
<g id="n260"><rect class="b" x="1046" y="752" width="18" height="16"/></g>
<g id="n261"><rect class="b" x="1403" y="752" width="18" height="16"/></g>
<g id="n262"><rect class="b" x="1512" y="752" width="18" height="16"/></g>
<g id="n263"><rect class="b" x="1557" y="752" width="18" height="16"/></g>
<g id="n264"><rect class="b" x="1608" y="752" width="18" height="16"/></g>
<g id="n265"><rect class="b" x="1647" y="752" width="18" height="16"/></g>
<g id="n266"><rect class="b" x="1699" y="752" width="18" height="16"/></g>
<g id="n267"><rect class="b" x="1837" y="752" width="18" height="16"/></g>
<g id="n268"><rect class="b" x="2145" y="752" width="18" height="16"/></g>
<g id="n269"><rect class="p" x="2181" y="752" width="18" height="16"/></g>
<g id="n270"><rect class="b" x="2219" y="752" width="18" height="16"/></g>
<g id="n271"><rect class="b" x="2256" y="752" width="18" height="16"/></g>
<g id="n272"><rect class="b" x="2295" y="752" width="18" height="16"/></g>
<g id="n273"><rect class="b" x="2416" y="752" width="18" height="16"/></g>
<g id="n274"><rect class="b" x="2465" y="752" width="18" height="16"/></g>
<g id="n275"><rect class="b" x="2587" y="752" width="18" height="16"/></g>
</g>
<g id="r11">
<g id="n276"><rect class="b" x="545" y="795" width="18" height="16"/></g>
<g id="n277"><rect class="b" x="748" y="795" width="18" height="16"/></g>
<g id="n278"><rect class="b" x="871" y="795" width="18" height="16"/></g>
<g id="n279"><rect class="b" x="997" y="795" width="18" height="16"/></g>
<g id="n280"><rect class="b" x="1029" y="795" width="18" height="16"/></g>
<g id="n281"><rect class="b" x="1174" y="795" width="18" height="16"/></g>
<g id="n282"><rect class="b" x="1263" y="795" width="18" height="16"/></g>
<g id="n283"><rect class="b" x="1354" y="795" width="18" height="16"/></g>
<g id="n284"><rect class="b" x="1609" y="795" width="18" height="16"/></g>
<g id="n285"><rect class="b" x="1647" y="795" width="18" height="16"/></g>
<g id="n286"><rect class="b" x="2135" y="795" width="18" height="16"/></g>
<g id="n287"><rect class="b" x="2206" y="795" width="18" height="16"/></g>
<g id="n288"><rect class="b" x="2274" y="795" width="18" height="16"/></g>
<g id="n289"><rect class="b" x="2354" y="795" width="18" height="16"/></g>
<g id="n290"><rect class="b" x="2416" y="795" width="18" height="16"/></g>
<g id="n291"><rect class="b" x="2528" y="795" width="18" height="16"/></g>
<g id="n292"><rect class="b" x="2639" y="795" width="18" height="16"/></g>
</g>
<g id="r12">
<g id="n293"><rect class="b" x="1015" y="835" width="18" height="16"/></g>
<g id="n294"><rect class="b" x="1631" y="835" width="18" height="16"/></g>
<g id="n295"><rect class="b" x="1667" y="835" width="18" height="16"/></g>
<g id="n296"><rect class="b" x="2041" y="835" width="18" height="16"/></g>
<g id="n297"><rect class="b" x="2121" y="835" width="18" height="16"/></g>
<g id="n298"><rect class="b" x="2354" y="835" width="18" height="16"/></g>
<g id="n299"><rect class="b" x="2547" y="835" width="18" height="16"/></g>
<g id="n300"><rect class="b" x="2671" y="835" width="18" height="16"/></g>
<g id="n301"><rect class="b" x="1572" y="872" width="18" height="16"/></g>
<g id="n302"><rect class="b" x="2043" y="872" width="18" height="16"/></g>
<g id="n303"><rect class="b" x="2354" y="872" width="18" height="16"/></g>
<g id="n304"><rect class="b" x="2547" y="872" width="18" height="16"/></g>
<g id="n305"><rect class="b" x="2671" y="872" width="18" height="16"/></g>
<g id="n306"><rect class="b" x="1666" y="909" width="18" height="16"/></g>
<g id="n307"><rect class="b" x="2289" y="909" width="18" height="16"/></g>
</g>
<g id="n308"><circle cx="1272" cy="1013" r="5.5" fill="#5cb85c" stroke="#2e7d32" stroke-width="1.2"/></g>
<g id="frames">
<rect class="of" x="180" y="267" width="36" height="36"/>
<rect class="of" x="1480" y="61" width="35" height="35"/>
<rect class="of" x="1480" y="146" width="35" height="34"/>
<rect class="gf" x="1362" y="198" width="42" height="44"/>
<rect class="of" x="1366" y="202" width="34" height="36"/>
<rect class="of" x="1268" y="340" width="48" height="35"/>
<rect class="of" x="1432" y="340" width="34" height="35"/>
<rect class="of" x="1771" y="340" width="36" height="35"/>
<rect class="of" x="1829" y="201" width="34" height="35"/>
<rect class="of" x="1830" y="268" width="34" height="35"/>
<rect class="of" x="2405" y="147" width="36" height="35"/>
<rect class="gf" x="1434" y="103" width="43" height="44"/>
<rect class="gf" x="1438" y="593" width="43" height="44"/>
</g>
</svg>
